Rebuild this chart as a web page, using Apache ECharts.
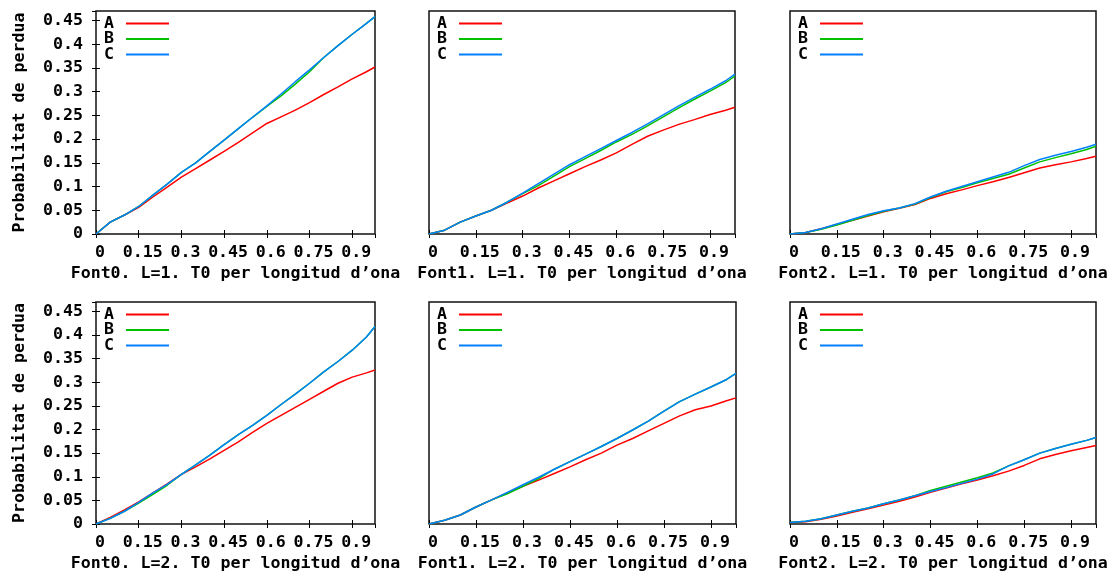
<!DOCTYPE html>
<html><head><meta charset="utf-8">
<script src="https://cdn.jsdelivr.net/npm/echarts@6/dist/echarts.min.js"></script>
<style>html,body{margin:0;padding:0;background:#fff}#c{width:1112px;height:574px}</style>
</head><body><div id="c"></div>
<script>
// ---- data ----
const xValues = [0, 0.05, 0.1, 0.15, 0.2, 0.25, 0.3, 0.35, 0.4, 0.45, 0.5, 0.55, 0.6, 0.65, 0.7, 0.75, 0.8, 0.85, 0.9, 0.95, 0.98];
const seriesNames = ['A', 'B', 'C'];
const yTitle = 'Probabilitat de perdua';
const xTitles = [
  "Font0. L=1. T0 per longitud d\u2019ona",
  "Font1. L=1. T0 per longitud d\u2019ona",
  "Font2. L=1. T0 per longitud d\u2019ona",
  "Font0. L=2. T0 per longitud d\u2019ona",
  "Font1. L=2. T0 per longitud d\u2019ona",
  "Font2. L=2. T0 per longitud d\u2019ona"
];
// Font0, L=1
const f0l1_A = [0, 0.025, 0.04, 0.056, 0.078, 0.099, 0.12, 0.138, 0.156, 0.174, 0.193, 0.213, 0.233, 0.247, 0.261, 0.277, 0.294, 0.31, 0.327, 0.342, 0.352];
const f0l1_B = [0, 0.025, 0.04, 0.058, 0.082, 0.105, 0.13, 0.15, 0.174, 0.198, 0.222, 0.246, 0.269, 0.291, 0.316, 0.342, 0.372, 0.397, 0.421, 0.444, 0.458];
const f0l1_C = [0, 0.025, 0.04, 0.058, 0.082, 0.105, 0.13, 0.15, 0.174, 0.198, 0.222, 0.246, 0.27, 0.295, 0.321, 0.346, 0.372, 0.397, 0.421, 0.444, 0.458];
// Font1, L=1
const f1l1_A = [0, 0.008, 0.025, 0.038, 0.05, 0.065, 0.08, 0.097, 0.112, 0.127, 0.142, 0.156, 0.171, 0.189, 0.206, 0.219, 0.231, 0.241, 0.252, 0.261, 0.267];
const f1l1_B = [0, 0.008, 0.025, 0.038, 0.05, 0.067, 0.085, 0.102, 0.122, 0.142, 0.159, 0.176, 0.194, 0.21, 0.228, 0.247, 0.266, 0.284, 0.301, 0.319, 0.333];
const f1l1_C = [0, 0.008, 0.025, 0.038, 0.05, 0.067, 0.086, 0.106, 0.126, 0.146, 0.163, 0.18, 0.197, 0.214, 0.232, 0.251, 0.27, 0.288, 0.305, 0.323, 0.337];
// Font2, L=1
const f2l1_A = [0, 0.003, 0.011, 0.02, 0.029, 0.038, 0.047, 0.054, 0.062, 0.075, 0.085, 0.093, 0.102, 0.11, 0.119, 0.129, 0.139, 0.146, 0.152, 0.159, 0.164];
const f2l1_B = [0, 0.003, 0.01, 0.019, 0.029, 0.039, 0.048, 0.055, 0.063, 0.077, 0.089, 0.098, 0.108, 0.117, 0.126, 0.139, 0.152, 0.161, 0.169, 0.178, 0.185];
const f2l1_C = [0, 0.003, 0.011, 0.021, 0.031, 0.041, 0.049, 0.055, 0.064, 0.078, 0.09, 0.1, 0.11, 0.12, 0.13, 0.144, 0.157, 0.166, 0.174, 0.183, 0.189];
// Font0, L=2
const f0l2_A = [0, 0.014, 0.03, 0.047, 0.066, 0.085, 0.105, 0.121, 0.138, 0.156, 0.174, 0.194, 0.213, 0.23, 0.247, 0.264, 0.281, 0.298, 0.311, 0.32, 0.326];
const f0l2_B = [0, 0.012, 0.027, 0.044, 0.063, 0.082, 0.105, 0.125, 0.146, 0.168, 0.189, 0.209, 0.23, 0.253, 0.275, 0.298, 0.322, 0.344, 0.368, 0.396, 0.418];
const f0l2_C = [0, 0.012, 0.027, 0.046, 0.066, 0.084, 0.105, 0.125, 0.146, 0.168, 0.189, 0.209, 0.23, 0.253, 0.275, 0.298, 0.322, 0.344, 0.368, 0.396, 0.418];
// Font1, L=2
const f1l2_A = [0, 0.008, 0.019, 0.036, 0.051, 0.066, 0.08, 0.093, 0.107, 0.121, 0.136, 0.15, 0.167, 0.181, 0.197, 0.213, 0.229, 0.242, 0.25, 0.261, 0.267];
const f1l2_B = [0, 0.008, 0.019, 0.036, 0.051, 0.064, 0.08, 0.096, 0.116, 0.132, 0.148, 0.164, 0.181, 0.199, 0.218, 0.239, 0.259, 0.275, 0.29, 0.306, 0.319];
const f1l2_C = [0, 0.008, 0.019, 0.036, 0.051, 0.067, 0.083, 0.099, 0.116, 0.132, 0.148, 0.164, 0.181, 0.199, 0.218, 0.239, 0.259, 0.275, 0.29, 0.306, 0.319];
// Font2, L=2
const f2l2_A = [0.003, 0.005, 0.01, 0.017, 0.025, 0.032, 0.04, 0.048, 0.057, 0.067, 0.076, 0.085, 0.093, 0.102, 0.112, 0.124, 0.138, 0.147, 0.155, 0.162, 0.166];
const f2l2_B = [0.003, 0.006, 0.011, 0.019, 0.027, 0.034, 0.043, 0.051, 0.06, 0.071, 0.08, 0.089, 0.098, 0.108, 0.123, 0.136, 0.15, 0.16, 0.169, 0.177, 0.183];
const f2l2_C = [0.003, 0.006, 0.011, 0.019, 0.027, 0.034, 0.043, 0.051, 0.06, 0.069, 0.077, 0.086, 0.095, 0.106, 0.123, 0.136, 0.15, 0.16, 0.169, 0.177, 0.183];

const panelData = [
  [f0l1_A, f0l1_B, f0l1_C],
  [f1l1_A, f1l1_B, f1l1_C],
  [f2l1_A, f2l1_B, f2l1_C],
  [f0l2_A, f0l2_B, f0l2_C],
  [f1l2_A, f1l2_B, f1l2_C],
  [f2l2_A, f2l2_B, f2l2_C]
];

// ---- layout / style ----
const colors = ['#ff0000', '#00c000', '#0080ff'];
const FONT = 'DejaVu Sans Mono';
const FS = 16.6;
const gridRects = [
  {left: 96, top: 11, width: 279, height: 223},
  {left: 429, top: 11, width: 306, height: 223},
  {left: 790, top: 11, width: 306, height: 223},
  {left: 96, top: 302, width: 279, height: 222},
  {left: 429, top: 302, width: 307, height: 222},
  {left: 790, top: 302, width: 306, height: 222}
];
const X_MAX = 0.98, Y_MAX = 0.47;

const grid = [], xAxis = [], yAxis = [], series = [], legend = [];
const lab = {fontFamily: FONT, fontSize: FS, color: '#000', fontWeight: 'bold'};
gridRects.forEach((r, i) => {
  const hasY = (i % 3 === 0);
  grid.push(Object.assign({show: true, borderColor: '#111', borderWidth: 1.5, backgroundColor: '#fff', containLabel: false}, r));
  const tick = {show: true, inside: true, length: 4, lineStyle: {color: '#000', width: 1}};
  xAxis.push({type: 'value', gridIndex: i, position: 'bottom', min: 0, max: X_MAX, interval: 0.15,
    axisLine: {show: false}, splitLine: {show: false}, axisTick: tick,
    axisLabel: Object.assign({margin: 10, showMaxLabel: false, padding: [0, 0, 0, 8]}, lab),
    name: xTitles[i], nameLocation: 'middle', nameGap: 31, nameTextStyle: lab});
  xAxis.push({type: 'value', gridIndex: i, position: 'top', min: 0, max: X_MAX, interval: 0.15,
    axisLine: {show: false}, splitLine: {show: false}, axisTick: tick, axisLabel: {show: false}});
  yAxis.push({type: 'value', gridIndex: i, position: 'left', min: 0, max: Y_MAX, interval: 0.05,
    axisLine: {show: false}, splitLine: {show: false}, axisTick: Object.assign({}, tick, {show: hasY}),
    axisLabel: Object.assign({show: hasY, margin: 13, showMaxLabel: false}, lab),
    name: hasY ? yTitle : '', nameLocation: 'middle', nameGap: 68, nameRotate: 90, nameTextStyle: lab});
  yAxis.push({type: 'value', gridIndex: i, position: 'right', min: 0, max: Y_MAX, interval: 0.05,
    axisLine: {show: false}, splitLine: {show: false}, axisTick: Object.assign({}, tick, {show: hasY}), axisLabel: {show: false}});
  panelData[i].forEach((vals, k) => {
    series.push({type: 'line', name: seriesNames[k], xAxisIndex: 2 * i, yAxisIndex: 2 * i,
      data: xValues.map((x, j) => [x, vals[j]]),
      showSymbol: false, symbol: 'none', lineStyle: {width: 1.5, color: colors[k]}, itemStyle: {color: colors[k]},
      z: 2 + k, animation: false});
  });
  legend.push({data: seriesNames, orient: 'vertical', align: 'right', left: r.left + 8, top: r.top + 4,
    padding: 0, itemWidth: 43, itemHeight: 2, itemGap: -1.5, icon: 'rect', selectedMode: false,
    textStyle: {fontFamily: FONT, fontSize: FS, color: '#000', fontWeight: 'bold', lineHeight: 14, padding: [0, 7, 0, 0]}});
});

const chart = echarts.init(document.getElementById('c'), null, {renderer: 'canvas'});
chart.setOption({animation: false, color: colors, grid, xAxis, yAxis, series, legend});
</script></body></html>
